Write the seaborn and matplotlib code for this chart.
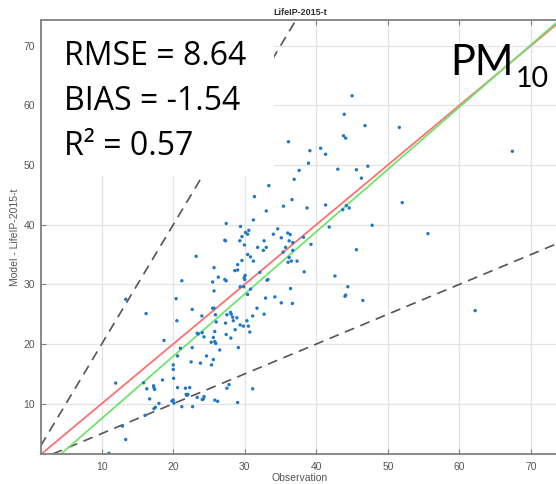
import matplotlib
matplotlib.use("Agg")
import matplotlib.pyplot as plt
import seaborn as sns
import pandas as pd
from matplotlib.patches import Rectangle

# ---------------- data ----------------
obs = [11.0, 13.35, 12.9, 11.95, 16.2, 18.7, 20.5, 22.65, 24.0, 25.5, 25.7, 25.9, 26.0, 27.5, 28.0,
       28.1, 28.3, 28.4, 28.9, 27.3, 29.35, 29.8, 30.3, 30.5, 30.7, 31.1, 31.7, 32.7, 28.65, 27.4,
       28.05, 25.8, 24.05, 23.35, 23.5, 24.3, 25.3, 25.6, 25.8, 25.95, 26.5, 29.1, 22.65, 21.0, 20.6,
       22.5, 23.8, 24.65, 25.6, 25.35, 20.0, 20.0, 18.5, 20.05, 20.6, 21.7, 22.3, 21.8, 21.9, 22.05,
       23.35, 24.05, 24.3, 24.2, 25.8, 26.2, 27.8, 27.5, 29.0, 31.1, 15.85, 16.3, 17.25, 17.3, 17.4,
       16.7, 18.0, 17.5, 17.3, 16.05, 20.0, 20.1, 19.8, 21.2, 22.7,
       33.35, 31.35, 35.4, 38.7, 36.6, 33.0, 31.2, 27.4, 29.4, 30.56, 30.4, 30.1, 29.6, 27.2, 27.3,
       29.3, 29.95, 32.7, 31.8, 32.6, 33.0, 34.0, 34.6, 35.1, 36.0, 36.35, 36.2, 36.7, 35.7, 35.35,
       36.2, 36.05, 36.5, 37.3, 38.2, 39.25, 36.7, 23.2, 29.6, 30.4, 30.8, 31.2, 25.7, 29.0, 28.6,
       29.0, 30.05, 29.9, 30.0, 27.2, 27.4, 26.3, 25.5, 32.1, 33.1, 33.25, 29.35, 29.85, 30.8, 25.7,
       30.4, 36.4, 32.9, 34.2, 35.1, 36.65, 42.6, 44.4, 44.1, 44.0, 45.6, 41.3, 41.8, 44.2, 44.6,
       43.7, 38.3,
       45.0, 43.9, 46.8, 51.6, 43.8, 44.1, 36.1, 39.1, 40.6, 41.3, 38.9, 37.6, 43.0, 45.6, 47.2,
       36.9, 46.3, 67.4, 52.0, 47.8, 55.6, 62.2, 46.5, 21.2, 20.4, 13.35]
model = [1.7, 4.0, 6.26, 13.46, 25.1, 20.6, 23.9, 25.8, 24.7, 26.0, 26.0, 24.9, 23.7, 24.9, 25.3,
         25.0, 24.5, 23.9, 24.4, 23.5, 23.2, 23.0, 23.9, 23.0, 22.0, 24.7, 26.0, 25.0, 22.4, 21.6,
         21.0, 22.1, 21.9, 21.8, 21.7, 21.2, 20.3, 21.1, 20.4, 20.1, 19.0, 19.4, 19.4, 19.3, 18.0,
         17.0, 16.8, 18.0, 17.4, 16.5, 16.5, 15.75, 13.97, 14.25, 12.7, 12.6, 12.7, 11.55, 11.4, 11.55,
         11.06, 10.7, 11.2, 10.8, 10.6, 10.4, 13.2, 12.6, 10.2, 12.5, 13.5, 12.5, 13.0, 12.7, 12.4,
         10.8, 10.05, 9.4, 9.16, 8.04, 10.6, 10.1, 10.45, 9.5, 9.5,
         46.55, 44.7, 43.1, 42.8, 44.2, 42.3, 40.8, 40.2, 39.7, 39.06, 38.4, 38.7, 38.0, 37.4, 37.3,
         37.3, 36.6, 37.3, 36.2, 35.7, 36.2, 38.4, 39.3, 37.8, 38.6, 38.35, 37.3, 37.0, 36.2, 35.4,
         34.5, 33.7, 33.9, 33.9, 37.9, 36.7, 35.7, 34.7, 34.0, 35.0, 34.6, 33.9, 32.8, 33.3, 32.3,
         32.4, 31.5, 31.1, 30.8, 30.8, 30.6, 31.2, 30.4, 32.0, 30.7, 30.8, 29.6, 29.6, 29.2, 28.9,
         28.3, 29.3, 27.7, 27.9, 26.9, 26.8, 31.4, 29.6, 28.2, 28.0, 35.8, 43.3, 39.6, 43.2, 42.8,
         42.5, 32.1,
         61.6, 58.5, 56.6, 56.3, 54.9, 54.5, 53.9, 52.4, 52.8, 51.8, 50.3, 49.1, 49.3, 49.2, 49.8,
         47.6, 47.8, 52.3, 43.7, 39.9, 38.5, 25.6, 27.3, 30.6, 27.6, 27.5]

fit_slope = 1.044
fit_intercept = -2.93
stats_lines = ["RMSE = 8.64", "BIAS = -1.54", "R\u00b2 = 0.57"]
title = "LifeIP-2015-t"
xlabel = "Observation"
ylabel = "Model - LifeIP-2015-t"
ticks = [10, 20, 30, 40, 50, 60, 70]

df = pd.DataFrame({"Observation": obs, "Model": model})

# ---------------- figure ----------------
sns.set_theme(style="white")
plt.rcParams["font.family"] = ["Liberation Sans", "DejaVu Sans"]

W, H = 556, 484
fig = plt.figure(figsize=(W / 100, H / 100), dpi=100)
ax = fig.add_axes([40.7 / W, 30 / H, 1 - 40.7 / W, 434 / H])

ax.set_xlim(1.47, 73.5)
ax.set_ylim(1.57, 74.3)
ax.set_xticks(ticks)
ax.set_yticks(ticks)
ax.grid(True, color="#e3e3e3", lw=0.9, zorder=0)
ax.set_axisbelow(True)

# reference lines
ax.axline((0, 0), slope=2, color="#555555", lw=1.2, ls=(0, (6, 4)), zorder=2)
ax.axline((0, 0), slope=0.5, color="#555555", lw=1.2, ls=(0, (6, 4)), zorder=2)
ax.axline((0, 0), slope=1, color="#ff6f6f", lw=1.3, zorder=2)
ax.axline((0, fit_intercept), slope=fit_slope, color="#6ee46e", lw=1.3, zorder=2)

sns.scatterplot(data=df, x="Observation", y="Model", ax=ax, s=6, color="#1f77c8",
                edgecolor="none", linewidth=0, zorder=2.2, legend=False)
ax.set_xlabel("")
ax.set_ylabel("")

for side in ["left", "bottom", "top"]:
    ax.spines[side].set_color("#808080")
    ax.spines[side].set_linewidth(1.3)
    ax.spines[side].set_zorder(5)
ax.spines["right"].set_visible(False)

ax.tick_params(axis="both", direction="in", length=3.5, width=0.8, color="#808080",
               labelsize=7.5, labelcolor="#555555")
ax.tick_params(axis="x", pad=6, top=True, bottom=True)
ax.tick_params(axis="y", pad=4, left=True, right=False)

# white overlay box behind the statistics text
ax.add_patch(Rectangle((0, 0.64), 0.453, 0.36, transform=ax.transAxes,
                       facecolor="white", edgecolor="none", zorder=4, clip_on=False))

def fx(px):
    return px / W

def fy(py):
    return 1 - py / H

fig.text(fx(300.7), fy(12.7), title, ha="center", va="center", fontsize=6.5,
         fontweight="bold", color="#333333")
fig.text(fx(300), fy(478), xlabel, ha="center", va="center", fontsize=7.5, color="#555555")
fig.text(fx(15), fy(237.5), ylabel, ha="center", va="center", rotation=90,
         fontsize=7.5, color="#555555")

for line, base in zip(stats_lines, [65, 110, 155]):
    fig.text(fx(63.8), fy(base), line, ha="left", va="baseline", fontsize=23,
             family=["Open Sans", "DejaVu Sans"], color="black", zorder=6)

fig.text(fx(450), fy(75), "PM", ha="left", va="baseline", fontsize=30,
         family=["Lato", "DejaVu Sans"], color="black", zorder=6)
fig.text(fx(515.7), fy(87.3), "10", ha="left", va="baseline", fontsize=20.5,
         family=["Lato", "DejaVu Sans"], color="black", zorder=6)

fig.savefig("out.png", dpi=100)
